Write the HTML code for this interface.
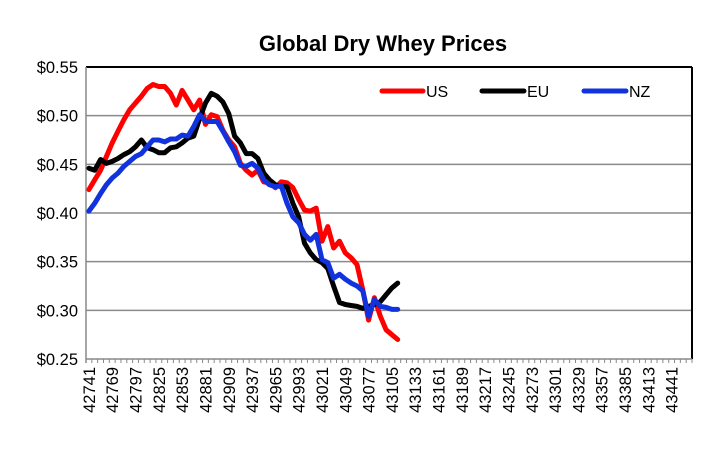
<!DOCTYPE html>
<html><head><meta charset="utf-8"><style>
body{margin:0;background:#fff;}
svg text{font-family:"Liberation Sans",Arial,sans-serif;}
</style></head><body>
<svg id="chart" width="720" height="450" xmlns="http://www.w3.org/2000/svg">
<text x="383" y="51" text-anchor="middle" font-size="22" font-weight="bold">Global Dry Whey Prices</text>
<g id="grid"></g><g id="axes"></g><g id="series"></g>
<g>
 <g><line x1="382" y1="91" x2="423" y2="91" stroke="#f00" stroke-width="5" stroke-linecap="round"/><text x="426" y="97" font-size="16">US</text></g>
 <g><line x1="482" y1="91" x2="524" y2="91" stroke="#000" stroke-width="5" stroke-linecap="round"/><text x="527" y="97" font-size="16">EU</text></g>
 <g><line x1="584" y1="91" x2="626" y2="91" stroke="#1133dd" stroke-width="5" stroke-linecap="round"/><text x="629" y="97" font-size="16">NZ</text></g>
</g>
</svg>
<script>
const startDate = 42741;
const weekStep = 7;
const xTickLabels = [42741,42769,42797,42825,42853,42881,42909,42937,42965,42993,43021,43049,43077,43105,43133,43161,43189,43217,43245,43273,43301,43329,43357,43385,43413,43441];
const yTicks = [0.25,0.30,0.35,0.40,0.45,0.50,0.55];
const usValues = [0.424,0.434,0.444,0.458,0.472,0.484,0.496,0.506,0.513,0.520,0.528,0.532,0.530,0.530,0.523,0.511,0.526,0.516,0.506,0.516,0.491,0.501,0.499,0.485,0.475,0.468,0.451,0.444,0.439,0.444,0.432,0.431,0.426,0.432,0.431,0.426,0.414,0.403,0.402,0.405,0.371,0.386,0.364,0.371,0.359,0.354,0.347,0.321,0.290,0.313,0.294,0.280,0.275,0.270];
const euValues = [0.446,0.444,0.455,0.451,0.453,0.456,0.460,0.463,0.468,0.475,0.467,0.465,0.462,0.462,0.467,0.468,0.472,0.477,0.479,0.497,0.513,0.523,0.520,0.514,0.502,0.479,0.472,0.461,0.461,0.456,0.441,0.434,0.429,0.427,0.427,0.410,0.396,0.369,0.359,0.352,0.349,0.343,0.325,0.308,0.306,0.305,0.304,0.302,0.304,0.306,0.309,0.316,0.323,0.328];
const nzValues = [0.402,0.410,0.420,0.429,0.436,0.441,0.448,0.453,0.458,0.461,0.468,0.475,0.475,0.473,0.476,0.476,0.480,0.479,0.489,0.501,0.494,0.494,0.494,0.484,0.473,0.463,0.449,0.448,0.451,0.446,0.434,0.429,0.427,0.428,0.410,0.396,0.390,0.378,0.372,0.378,0.352,0.349,0.333,0.337,0.332,0.328,0.325,0.320,0.294,0.311,0.304,0.303,0.301,0.301];

const L=86,R=692,T=67,B=359,NCAT=104,CW=(R-L)/NCAT;
const NS='http://www.w3.org/2000/svg';
function xPos(d){return L+((d-startDate)/weekStep+0.5)*CW;}
function yPos(v){return B-(v-0.25)/0.30*(B-T);}
function mk(tag,attrs,parent){const e=document.createElementNS(NS,tag);for(const k in attrs)e.setAttribute(k,attrs[k]);parent.appendChild(e);return e;}
const grid=document.getElementById('grid'),axes=document.getElementById('axes'),ser=document.getElementById('series');
yTicks.forEach(v=>{
  const y=yPos(v);
  if(v>0.25&&v<0.55){const g=mk('line',{x1:L,x2:R,y1:y,y2:y,stroke:'#8a8a8a','stroke-width':1.5},grid);
  
  }
  const t=mk('text',{x:78,y:y+6,'text-anchor':'end','font-size':16.5},axes);
  t.textContent='$'+v.toFixed(2);
  
  
});
mk('line',{x1:L,x2:R,y1:T,y2:T,stroke:'#000','stroke-width':2},axes);
mk('line',{x1:R,x2:R,y1:T,y2:B,stroke:'#000','stroke-width':2},axes);
mk('line',{x1:L,x2:L,y1:T,y2:B+4,stroke:'#888','stroke-width':1.5},axes);
mk('line',{x1:L,x2:R,y1:B,y2:B,stroke:'#888','stroke-width':1.5},axes);
for(let i=0;i<=NCAT;i++){const x=L+i*CW;mk('line',{x1:x,x2:x,y1:B,y2:B+4,stroke:'#888','stroke-width':1},axes);}
xTickLabels.forEach(d=>{
  const x=xPos(d);
  const t=mk('text',{x:0,y:0,'text-anchor':'end','font-size':16.5,transform:`translate(${x+6},367) rotate(-90)`},axes);
  t.textContent=d;
  
  
});
function draw(vals,color,name){
  const pts=vals.map((v,i)=>xPos(startDate+i*weekStep).toFixed(1)+','+yPos(v).toFixed(1)).join(' ');
  const p=mk('polyline',{points:pts,fill:'none',stroke:color,'stroke-width':5,'stroke-linejoin':'round','stroke-linecap':'round'},ser);
  
  
}
draw(usValues,'#f00','us-price-line');
draw(euValues,'#000','eu-price-line');
draw(nzValues,'#1133dd','nz-price-line');
</script>
</body></html>
